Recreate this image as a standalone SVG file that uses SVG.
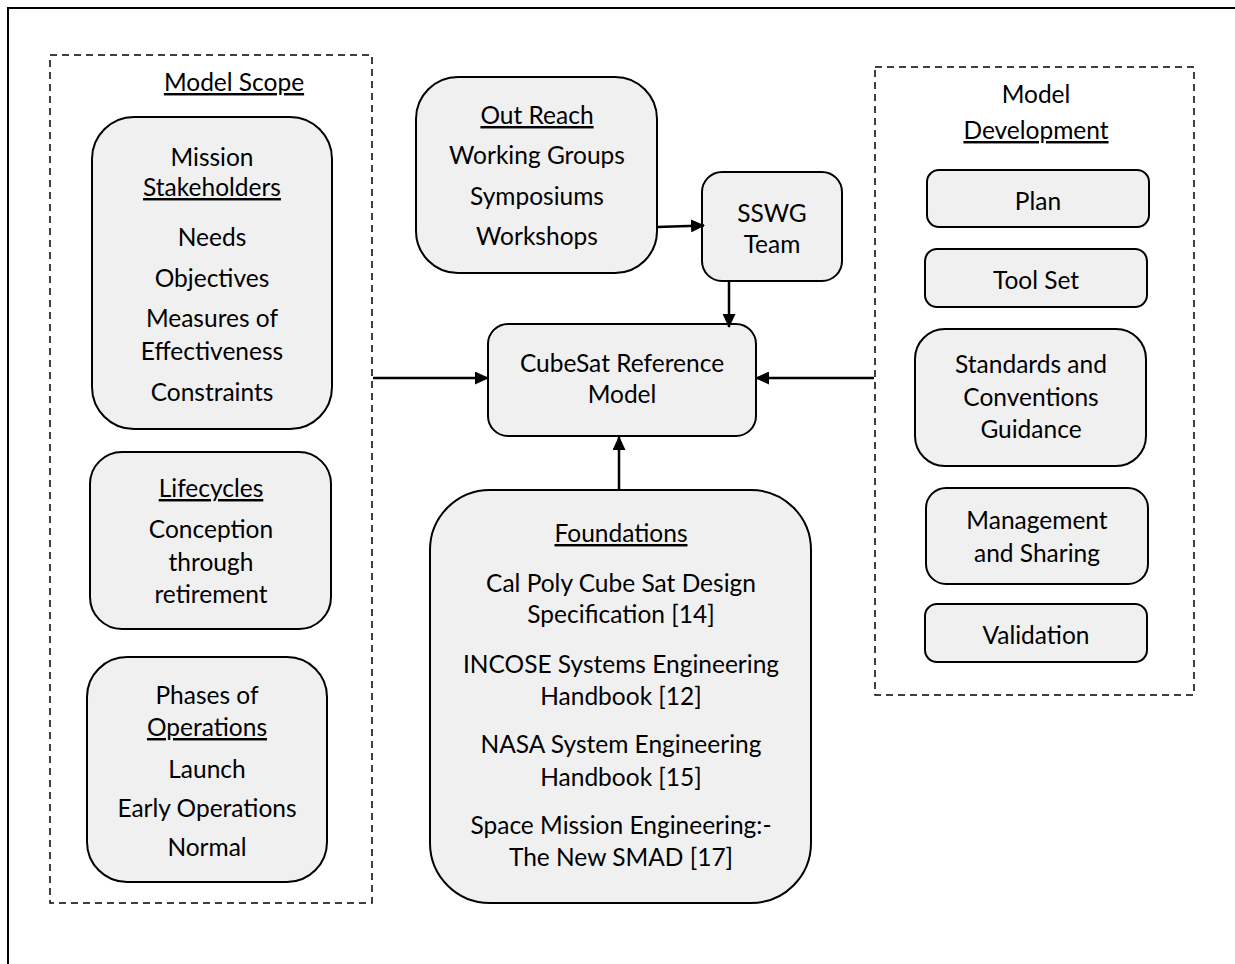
<svg xmlns="http://www.w3.org/2000/svg" width="1235" height="964" viewBox="0 0 1235 964">
<style>
.frame{fill:none;stroke:#000;stroke-width:2}
.dash{fill:none;stroke:#000;stroke-width:1.5;stroke-dasharray:7 5}
.box{fill:#f0f0f0;stroke:#000;stroke-width:2}
text{font-family:Lato,"Liberation Sans",sans-serif;font-size:24.5px;fill:#000;text-anchor:middle}
.u{text-decoration:underline}
.con{fill:none;stroke:#000;stroke-width:2.5}
</style>
<defs>
<marker id="arr" viewBox="0 0 14 13" refX="13" refY="6.5" markerWidth="14" markerHeight="13" markerUnits="userSpaceOnUse" orient="auto">
<path d="M0,0 L14,6.5 L0,13 Z" fill="#000"/>
</marker>
</defs>
<rect width="1235" height="964" fill="#fff"/>
<rect class="frame" x="8" y="8" width="1250" height="980"/>

<g id="model-scope">
<rect class="dash" x="50" y="55" width="322" height="848"/>
<text class="u" x="234" y="91">Model Scope</text>
</g>
<g id="mission-stakeholders">
<rect class="box" x="92" y="117" width="240" height="312" rx="42"/>
<text x="212" y="166">Mission</text>
<text class="u" x="212" y="196">Stakeholders</text>
<text x="212" y="246">Needs</text>
<text x="212" y="287">Objectives</text>
<text x="212" y="327">Measures of</text>
<text x="212" y="360">Effectiveness</text>
<text x="212" y="401">Constraints</text>
</g>
<g id="lifecycles">
<rect class="box" x="90" y="452" width="241" height="177" rx="32"/>
<text class="u" x="211" y="497">Lifecycles</text>
<text x="211" y="538">Conception</text>
<text x="211" y="571">through</text>
<text x="211" y="603">retirement</text>
</g>
<g id="phases">
<rect class="box" x="87" y="657" width="240" height="225" rx="40"/>
<text x="207" y="704">Phases of</text>
<text class="u" x="207" y="736">Operations</text>
<text x="207" y="778">Launch</text>
<text x="207" y="817">Early Operations</text>
<text x="207" y="856">Normal</text>
</g>
<g id="out-reach">
<rect class="box" x="416" y="77" width="241" height="196" rx="42"/>
<text class="u" x="537" y="124">Out Reach</text>
<text x="537" y="164">Working Groups</text>
<text x="537" y="205">Symposiums</text>
<text x="537" y="245">Workshops</text>
</g>
<g id="sswg">
<rect class="box" x="702" y="172" width="140" height="109" rx="20"/>
<text x="772" y="222">SSWG</text>
<text x="772" y="253">Team</text>
</g>
<g id="cubesat">
<rect class="box" x="488" y="324" width="268" height="112" rx="20"/>
<text x="622" y="372">CubeSat Reference</text>
<text x="622" y="403">Model</text>
</g>
<g id="foundations">
<rect class="box" x="430" y="490" width="381" height="413" rx="60"/>
<text class="u" x="621" y="542">Foundations</text>
<text x="621" y="592">Cal Poly Cube Sat Design</text>
<text x="621" y="623">Specification [14]</text>
<text x="621" y="673">INCOSE Systems Engineering</text>
<text x="621" y="705">Handbook [12]</text>
<text x="621" y="753">NASA System Engineering</text>
<text x="621" y="786">Handbook [15]</text>
<text x="621" y="834">Space Mission Engineering:-</text>
<text x="621" y="866">The New SMAD [17]</text>
</g>
<g id="model-development">
<rect class="dash" x="875" y="67" width="319" height="628"/>
<text x="1036" y="103">Model</text>
<text class="u" x="1036" y="139">Development</text>
</g>
<g id="plan">
<rect class="box" x="927" y="170" width="222" height="57" rx="12"/>
<text x="1038" y="210">Plan</text>
</g>
<g id="tool-set">
<rect class="box" x="925" y="249" width="222" height="58" rx="12"/>
<text x="1036" y="289">Tool Set</text>
</g>
<g id="standards">
<rect class="box" x="915" y="329" width="231" height="137" rx="30"/>
<text x="1031" y="373">Standards and</text>
<text x="1031" y="406">Conventions</text>
<text x="1031" y="438">Guidance</text>
</g>
<g id="management">
<rect class="box" x="926" y="488" width="222" height="96" rx="20"/>
<text x="1037" y="529">Management</text>
<text x="1037" y="562">and Sharing</text>
</g>
<g id="validation">
<rect class="box" x="925" y="604" width="222" height="58" rx="12"/>
<text x="1036" y="644">Validation</text>
</g>

<g id="connectors">
<line class="con" x1="657" y1="227" x2="704" y2="225.5" marker-end="url(#arr)"/>
<line class="con" x1="729" y1="281" x2="729" y2="327" marker-end="url(#arr)"/>
<line class="con" x1="373" y1="378" x2="488" y2="378" marker-end="url(#arr)"/>
<line class="con" x1="874" y1="378" x2="756" y2="378" marker-end="url(#arr)"/>
<line class="con" x1="619" y1="490" x2="619" y2="437" marker-end="url(#arr)"/>
</g>
</svg>
